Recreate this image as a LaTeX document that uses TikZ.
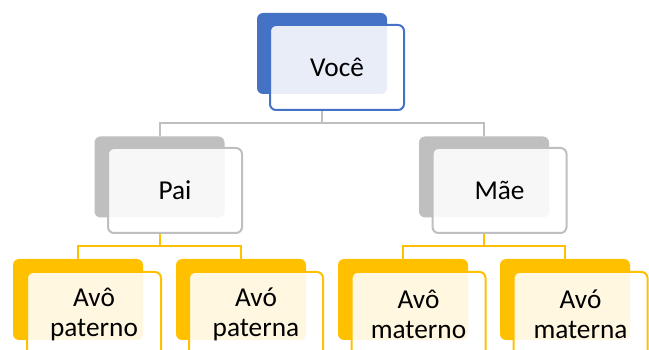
\documentclass[tikz,border=0pt]{standalone}
\usepackage{fontspec}
\setmainfont{Carlito}
\usetikzlibrary{backgrounds}
\definecolor{cblue}{HTML}{4472C4}
\definecolor{cgray}{HTML}{BFBFBF}
\definecolor{cyel}{HTML}{FFC000}
\tikzset{
  backbox/.style={rounded corners=6pt, minimum width=130pt, minimum height=81pt, inner sep=0pt},
  frontbox/.style={rounded corners=6pt, minimum width=134pt, minimum height=85pt, inner sep=0pt,
     fill=white, fill opacity=0.88, text opacity=1, line width=2pt, align=center,
     font=\fontsize{27.3}{30}\selectfont},
  conn/.style={line width=2pt}
}
\begin{document}
\begin{tikzpicture}[x=1pt,y=-1pt]
\useasboundingbox (0,0) rectangle (649,350);
\clip (0,0) rectangle (649,350);
% back boxes
\node[backbox, fill=cblue] (vb) at (322,53.5) {};
\node[backbox, fill=cgray] (pb) at (159.5,177) {};
\node[backbox, fill=cgray] (mb) at (484,177) {};
\node[backbox, fill=cyel] (apb) at (78,299.5) {};
\node[backbox, fill=cyel] (aob) at (241,299.5) {};
\node[backbox, fill=cyel] (amb) at (403,299.5) {};
\node[backbox, fill=cyel] (aab) at (565,299.5) {};
% front boxes
\node[frontbox, draw=cblue] (vf) at (337,67.5) {\raisebox{-3pt}{Você}};
\node[frontbox, draw=cgray] (pf) at (175,190.5) {Pai};
\node[frontbox, draw=cgray] (mf) at (499.5,190.5) {Mãe};
\node[frontbox, draw=cyel] (apf) at (94,314.5) {Avô\\paterno};
\node[frontbox, draw=cyel] (aof) at (256,314.5) {Avó\\paterna};
\node[frontbox, draw=cyel] (amf) at (418.5,314.5) {Avô\\materno};
\node[frontbox, draw=cyel] (aaf) at (580.5,314.5) {Avó\\materna};
% connectors
\begin{scope}[on background layer]
\draw[conn, draw=cgray] (vb |- vf.south) -- ++(0,12.5) -| (pb.north);
\draw[conn, draw=cgray] (vb |- vf.south) -- ++(0,12.5) -| (mb.north);
\draw[conn, draw=cyel] (pb |- pf.south) -- ++(0,12) -| (apb.north);
\draw[conn, draw=cyel] (pb |- pf.south) -- ++(0,12) -| (aob.north);
\draw[conn, draw=cyel] (mb |- mf.south) -- ++(0,12) -| (amb.north);
\draw[conn, draw=cyel] (mb |- mf.south) -- ++(0,12) -| (aab.north);
\end{scope}
\end{tikzpicture}
\end{document}
